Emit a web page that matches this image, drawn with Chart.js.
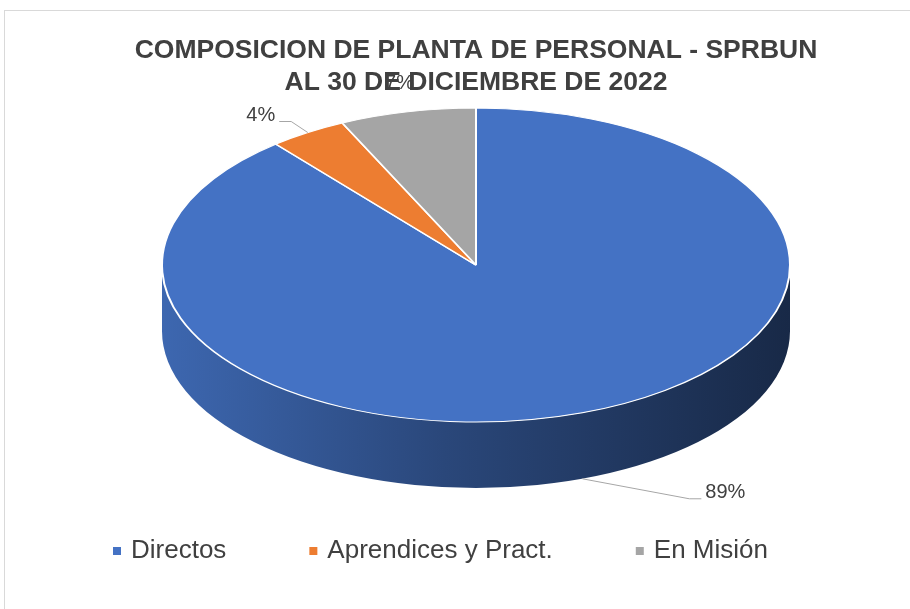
<!DOCTYPE html>
<html>
<head>
<meta charset="utf-8">
<title>Composicion de planta de personal - SPRBUN</title>
<script src="https://cdn.jsdelivr.net/npm/chart.js"></script>
<style>
  body { margin: 0; background: #fff; overflow: hidden; }
  #frame { position: absolute; left: 4px; top: 10px; width: 942px; height: 610px; border: 1px solid #d9d9d9; }
  canvas { display: block; }
</style>
</head>
<body>
<div id="frame"><canvas id="plantaChart" width="942" height="610"></canvas></div>
<script>
const categories = ["Directos", "Aprendices y Pract.", "En Misión"];
const personal = [89, 4, 7];
const sliceColors = ["#4472C4", "#ED7D31", "#A5A5A5"];
const titleLines = ["COMPOSICION DE PLANTA DE PERSONAL - SPRBUN", "AL 30 DE DICIEMBRE DE 2022"];

const FONT = '"Liberation Sans", Arial, sans-serif';
const TILT = 0.5;   // vertical squash of the top face
const DEPTH = 66;   // thickness of the pie in px

function shade(hex, f) {
  const n = parseInt(hex.slice(1), 16);
  const r = Math.round((n >> 16 & 255) * f);
  const g = Math.round((n >> 8 & 255) * f);
  const b = Math.round((n & 255) * f);
  return `rgb(${r},${g},${b})`;
}

// draws the visible side wall, then squashes the canvas so the arcs come out as an ellipse
const pie3d = {
  id: 'pie3d',
  beforeDatasetsDraw(chart) {
    const ctx = chart.ctx;
    const arcs = chart.getDatasetMeta(0).data;
    const cx = arcs[0].x, cy = arcs[0].y, r = arcs[0].outerRadius;
    const ry = r * TILT;
    ctx.save();
    arcs.forEach((arc, i) => {
      const s = Math.max(arc.startAngle, 0);
      const e = Math.min(arc.endAngle, Math.PI);
      if (e <= s) return;
      const grad = ctx.createLinearGradient(cx - r, 0, cx + r, 0);
      grad.addColorStop(0, shade(sliceColors[i], 0.9));
      grad.addColorStop(0.45, shade(sliceColors[i], 0.62));
      grad.addColorStop(1, shade(sliceColors[i], 0.36));
      ctx.beginPath();
      ctx.ellipse(cx, cy, r, ry, 0, s, e);
      ctx.ellipse(cx, cy + DEPTH, r, ry, 0, e, s, true);
      ctx.closePath();
      ctx.fillStyle = grad;
      ctx.fill();
    });
    ctx.translate(cx, cy);
    ctx.scale(1, TILT);
    ctx.translate(-cx, -cy);
  },
  afterDatasetsDraw(chart) {
    chart.ctx.restore();
  }
};

// percentage labels with leader lines
const sliceLabels = {
  id: 'sliceLabels',
  afterDatasetsDraw(chart, args, opts) {
    const ctx = chart.ctx;
    const arcs = chart.getDatasetMeta(0).data;
    const total = personal.reduce((a, b) => a + b, 0);
    ctx.save();
    ctx.font = `20px ${FONT}`;
    ctx.textAlign = 'center';
    ctx.textBaseline = 'middle';
    arcs.forEach((arc, i) => {
      const mid = (arc.startAngle + arc.endAngle) / 2;
      const ax = arc.x + arc.outerRadius * Math.cos(mid);
      let ay = arc.y + arc.outerRadius * TILT * Math.sin(mid);
      if (Math.sin(mid) > 0) ay += DEPTH;
      const off = opts.offsets[i];
      const tx = ax + off[0], ty = ay + off[1];
      const text = Math.round(personal[i] / total * 100) + '%';
      const w = ctx.measureText(text).width;
      if (off[2]) {
        const dir = off[0] > 0 ? -1 : 1;
        const edge = tx + dir * w / 2;
        ctx.strokeStyle = '#a6a6a6';
        ctx.lineWidth = 1;
        ctx.beginPath();
        ctx.moveTo(edge + dir * 4, ty + 6);
        ctx.lineTo(edge + dir * 16, ty + 6);
        ctx.lineTo(ax, ay);
        ctx.stroke();
      }
      ctx.fillStyle = '#404040';
      ctx.fillText(text, tx, ty);
    });
    ctx.restore();
  }
};

const bottomLegend = {
  id: 'bottomLegend',
  afterDraw(chart, args, opts) {
    const ctx = chart.ctx;
    ctx.save();
    ctx.font = `26px ${FONT}`;
    ctx.textBaseline = 'middle';
    let x = opts.left;
    categories.forEach((name, i) => {
      ctx.fillStyle = sliceColors[i];
      ctx.fillRect(x, opts.y - 4, 8, 8);
      ctx.fillStyle = '#404040';
      ctx.fillText(name, x + 18, opts.y);
      x += 18 + ctx.measureText(name).width + 83;
    });
    ctx.restore();
  }
};

new Chart(document.getElementById('plantaChart'), {
  type: 'pie',
  data: {
    labels: categories,
    datasets: [{
      data: personal,
      backgroundColor: sliceColors,
      borderColor: '#ffffff',
      borderWidth: 2,
      radius: 314,
      clip: false
    }]
  },
  options: {
    responsive: false,
    animation: false,
    events: [],
    layout: { padding: { top: 0, left: 0, right: 0, bottom: 190 } },
    plugins: {
      legend: { display: false },
      tooltip: { enabled: false },
      title: {
        display: true,
        text: titleLines,
        color: '#404040',
        font: { family: FONT, size: 26.5, weight: 'bold', lineHeight: 1.21 },
        padding: { top: 24, bottom: 0 }
      },
      sliceLabels: { offsets: [[143, 14, true], [-47, -17, true], [-8, -28, false]] },
      bottomLegend: { left: 108, y: 540 }
    }
  },
  plugins: [pie3d, sliceLabels, bottomLegend]
});
</script>
</body>
</html>
